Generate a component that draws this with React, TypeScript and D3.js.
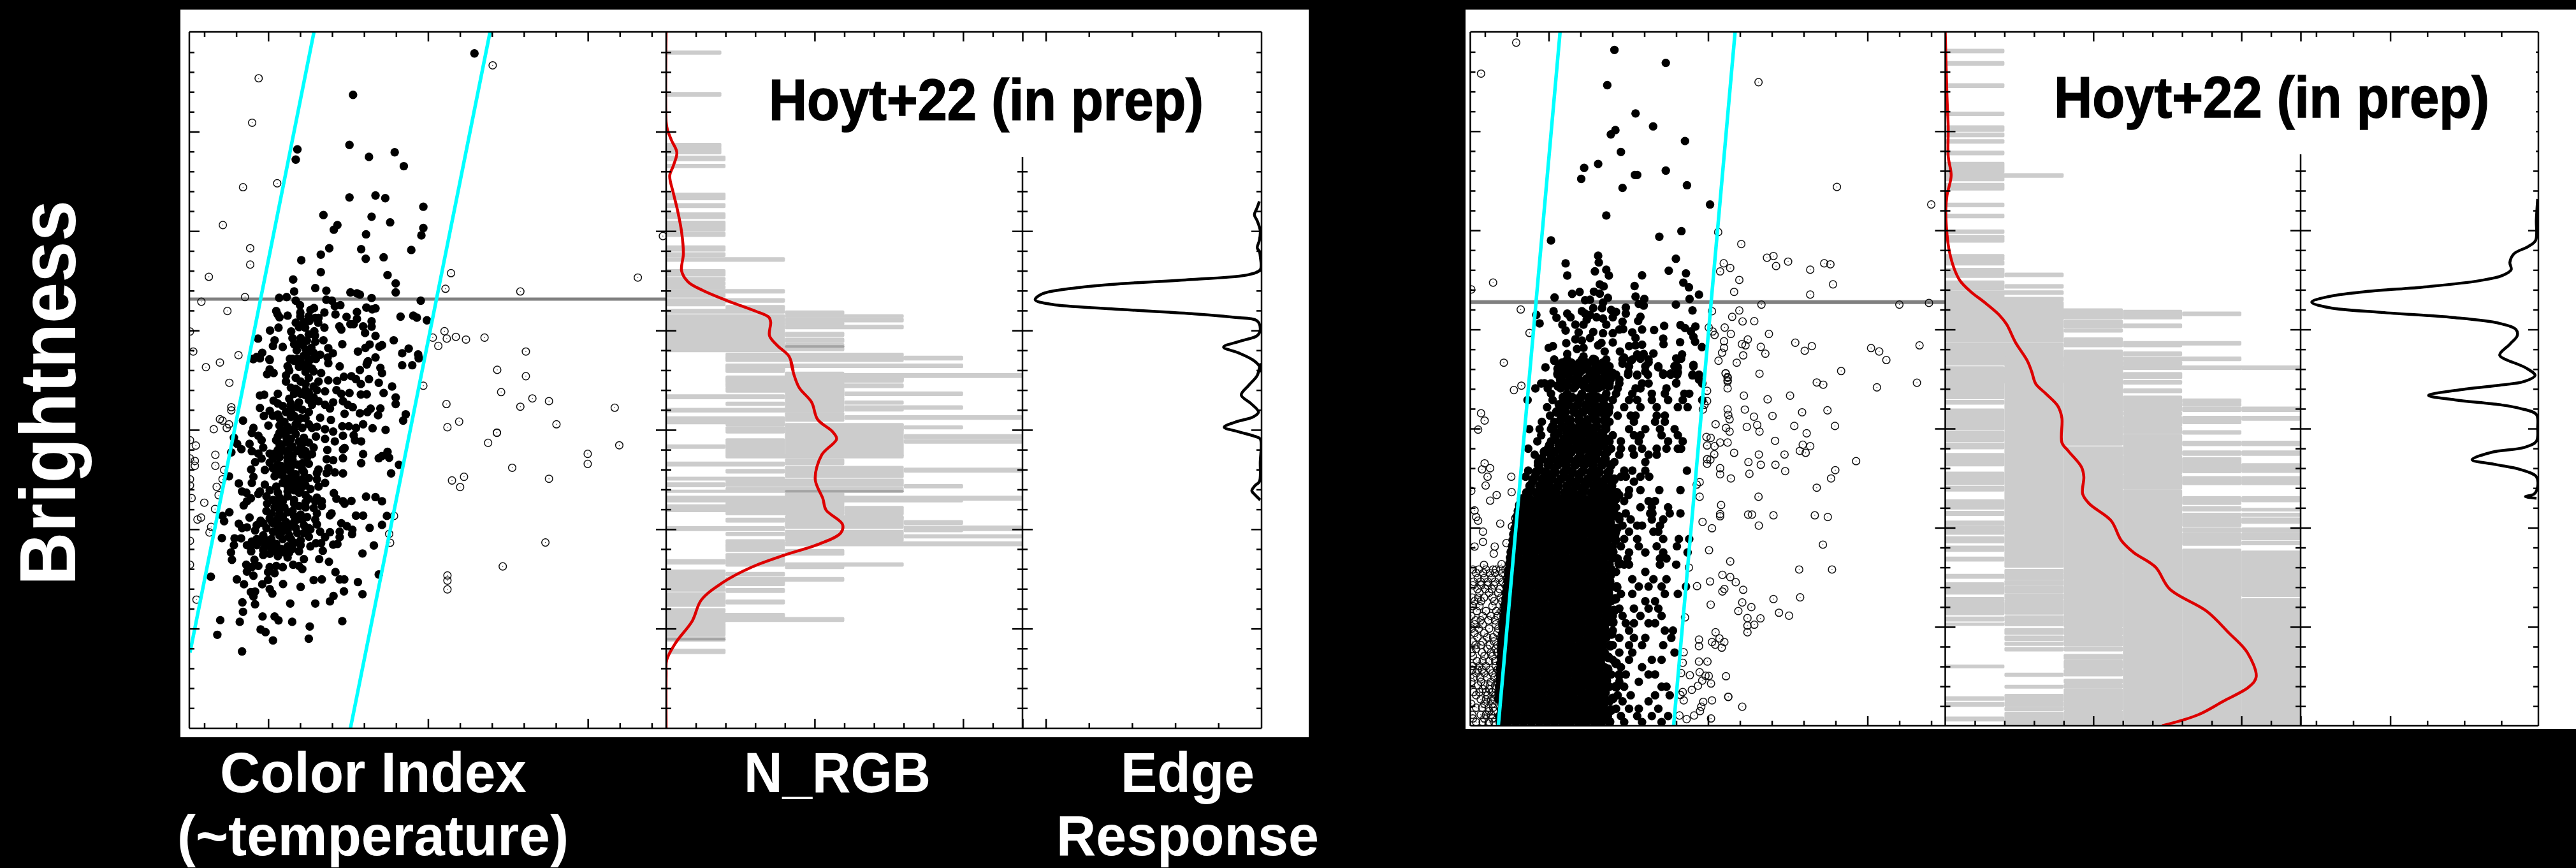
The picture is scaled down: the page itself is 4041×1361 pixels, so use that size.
import React, { useEffect, useRef } from "react";
import * as d3 from "d3";

// brightness values were read in two stretches, the lower one counts from this mark
const LOWER = 1463;

// ---- first field (left) : [color, brightness]
const fieldAMembersUpper = [
  [949,219],[576,389],[565,594],[405,612],[400,654],[625,643],[704,624],[732,681],[565,809],[645,801],[675,812],[792,847],[485,881],[633,888],[690,911],[528,922],[517,941],[792,934],[786,964],[616,960],[503,1017],[477,1043],[601,1021],[755,1024],[417,1066],[615,1060],[670,1054],[477,1115],[682,1127],[392,1145],[707,1161],[460,1180],[494,1191],[395,1194],[568,1198],[588,1202],[597,1207],[707,1198],[349,1220],[372,1217],[633,1221],[400,1232],[494,1228],[511,1232],[784,1232],[413,1250],[537,1250],[520,1254],[456,1262],[445,1270],[617,1260],[645,1263],[635,1267],[340,1274],[344,1287],[488,1280],[414,1280],[588,1278],[522,1288],[375,1293],[414,1296],[556,1298],[440,1296],[460,1302],[470,1302],[588,1306],[722,1297],[761,1293],[772,1301],[803,1312],[633,1316],[400,1322],[425,1320],[442,1315],[469,1322],[568,1328],[578,1328],[633,1338],[347,1342],[488,1342],[534,1337],[540,1350],[607,1337],[429,1342],[321,1354],[386,1358],[457,1357],[613,1364],[459,1375],[390,1385],[645,1376],[284,1387],[335,1394],[701,1394],[485,1394],[434,1396],[411,1405],[330,1417],[360,1421],[543,1410],[627,1411],[665,1414],[657,1420],[500,1426],[403,1435],[430,1430],[448,1425],[747,1428],[614,1425],[591,1440],[727,1447],[776,1452],[778,1465],[297,1445],[280,1462],[268,1470],[319,1472],[514,1447],[475,1453],[462,1470],[498,1465],[645,1464],[424,1458],[390,1470],[382,1470],[622,1480],[618,1493],
  [350,1300],[410,1340],[440,1370],[415,1385],[460,1400],[395,1410],[420,1412],[435,1445],[455,1445],[405,1470],[440,1480],[420,1495],[450,1510],
];
const fieldAMembersLower = [
  [270,8],[290,5],[320,12],[375,37],[415,20],[445,10],[500,25],[535,38],[620,22],[660,44],[665,65],[597,53],[727,33],[758,33],[778,5],[320,50],[332,65],[312,70],[370,75],[400,85],[430,60],[455,58],[478,65],[410,40],[440,40],
  [370,100],[385,125],[400,130],[430,110],[455,120],[470,100],[500,95],[527,97],[548,80],[571,78],[585,90],[600,110],[625,90],[655,105],[696,120],[525,135],[540,150],[490,140],[440,145],[415,150],[345,150],
  [290,157],[303,154],[332,178],[345,190],[380,170],[410,185],[455,165],[470,180],[428,155],[565,147],[600,153],[618,152],[670,147],[707,165],[707,192],[515,185],[490,195],[505,210],[545,180],[560,195],[575,205],[550,232],[360,200],[385,205],[420,215],[440,225],[290,208],[320,220],[385,225],[630,211],[660,210],[620,225],[597,230],[653,238],[738,234],[730,260],
  [302,241],[330,240],[350,250],[385,245],[405,265],[430,250],[475,248],[508,257],[238,260],[270,290],[316,280],[350,280],[420,290],[465,285],[490,295],[515,305],[543,283],[563,283],[585,290],[607,275],[636,291],[676,298],[440,275],[450,290],
  [210,330],[220,355],[233,377],[202,390],[258,355],[265,310],[285,322],[345,325],[380,300],[400,315],[425,330],[462,325],[490,335],[520,345],[545,322],[578,320],[582,340],[601,345],[295,340],[300,370],[340,340],[370,350],[390,365],[410,345],[440,350],[455,370],[550,372],[545,378],[497,380],[265,385],[285,395],[335,395],[360,380],[380,380],
  [295,415],[350,410],[390,405],[420,400],[450,397],[495,418],[515,422],[545,414],[607,397],[601,434],[655,414],[665,405],[682,388],[687,412],[717,441],[693,476],[275,430],[320,432],[345,440],[375,425],[385,450],[420,435],[440,437],[470,460],[500,455],[263,460],[305,462],[340,465],[360,470],[385,470],[425,470],[465,475],[495,475],[520,472],[545,476],[195,488],[335,488],[270,490],
  [225,517],[265,515],[305,522],[340,530],[375,500],[395,520],[440,495],[465,500],[490,515],[470,530],[415,540],[320,545],[290,550],[235,550],[248,555],[375,530],[410,555],[445,540],
  [262,578],[250,590],[240,607],[285,560],[310,570],[350,575],[375,570],[395,585],[440,580],[465,575],[517,557],[525,580],[545,590],[550,600],[571,589],[616,571],[645,573],[665,590],[480,590],[312,600],[345,600],[365,615],[410,610],[455,618],[480,610],[310,630],[325,640],[375,635],[465,640],[510,640],[415,645],[435,655],[196,635],[175,650],
  [180,672],[258,657],[292,670],[345,660],[370,675],[405,665],[460,665],[505,648],[585,649],[607,649],[680,650],[225,682],[235,700],[250,697],[280,688],[300,680],[330,680],[385,690],[425,688],[465,685],[540,680],[557,692],[574,707],[627,699],[665,687],[275,710],[345,700],[375,710],[405,720],[445,705],[475,715],[505,717],[535,715],[573,725],
  [173,741],[212,742],[232,742],[300,730],[350,730],[440,735],[490,737],[535,737],[210,770],[265,755],[250,770],[310,750],[340,765],[375,775],[415,770],[445,775],[462,762],[478,762],[515,768],[528,765],[640,771],[305,775],[263,795],[300,790],[320,805],[345,815],[380,800],[410,795],[483,793],[201,800],[605,804],
  [204,830],[375,820],[425,827],[472,827],[502,838],[248,850],[273,830],[285,855],[265,860],[320,860],[340,855],[360,860],[392,850],[410,855],[420,868],[250,878],[315,880],[335,885],[522,880],[270,895],[655,890],[139,899],
  [219,910],[315,912],[455,913],[480,910],[535,910],[549,910],[591,921],[241,930],[297,930],[361,929],[415,941],[320,950],[328,968],[262,962],[275,960],[270,980],[548,959],[605,971],[516,978],[505,1000],
  [236,1004],[275,1012],[383,1009],[460,1009],[238,1043],[298,1062],[335,1062],[347,1078],[168,1077],[228,1084],[389,1084],[543,1081],[443,1103],[292,1115],[307,1126],[159,1137],[330,1160],[440,1153],[235,1205],
  [405,135],[385,190],[440,175],[395,240],[365,265],[395,295],[370,325],[415,370],[375,395],[345,380],[320,395],[435,410],[330,415],[355,445],[400,480],[380,510],[405,505],[395,545],[360,590],[335,615],[390,630],[350,640],[325,670],[350,690],[380,730],[325,745],[395,760],[355,785],[280,770],[330,785],[460,590],[430,615],[440,700],[390,420],[365,495],[415,520],
  [395,15],[425,30],[380,55],[440,85],[415,100],[465,135],[395,150],[430,135],[450,195],[405,205],[370,225],[415,250],[345,235],[375,285],[400,275],[350,310],[365,300],[385,335],[420,355],[350,355],[405,385],[430,385],[350,395],[375,410],[405,440],[330,455],[375,450],[420,460],[350,480],[385,490],[420,500],[360,515],[395,500],[430,525],[385,535],[345,555],[375,550],[430,565],[330,585],[395,600],[430,595],[350,620],[395,650],[320,660],[360,655],[345,680],[395,675],[420,665],[310,700],[365,695],[400,700],[330,715],[355,720],[425,720],[300,755],[320,775],[360,745],[385,745],[280,745],[415,750],[365,800],[340,795],[390,785],[300,810],[260,775],
];
const fieldARejectedUpper = [
  [1005,268],[286,321],[266,503],[343,751],[238,767],[176,922],[1528,967],[260,1017],[260,1084],[133,1134],[877,1119],[1451,1137],[860,1183],[1090,1194],[244,1217],[110,1236],[190,1274],[857,1357],[75,1358],[821,1383],[864,1387],[892,1380],[923,1391],[980,1383],[838,1417],[85,1440],[1107,1440],[224,1455],[167,1485],[124,1504],
];
const fieldARejectedLower = [
  [1019,52],[1107,78],[196,105],[792,117],[1031,143],[1127,169],[1178,180],[863,192],[1090,203],[1380,207],[202,205],[202,218],[167,254],[175,260],[195,275],[188,290],[148,295],[902,264],[866,287],[1201,275],[1018,309],[1018,310],[991,351],[93,362],[1394,361],[1297,396],[153,400],[90,425],[1297,437],[90,445],[153,445],[180,462],[1065,453],[175,500],[1178,498],[917,490],[880,505],[905,532],[157,531],[163,565],[80,577],[119,596],[152,622],[109,657],[98,665],[702,650],[140,695],[135,718],[687,724],[690,760],[1167,759],[75,752],[1036,857],[866,894],[866,915],[866,951],[95,993],[75,340],[75,415],[75,500],[75,525],[75,850],
];
// [y from, y to, count from, count to]
const fieldAHist = [
  [210,222,0,.93],[380,394,0,.93],[588,602,0,.93],[603,630,0,.93],[640,658,0,1],[674,686,0,1],[792,818,0,1],[835,850,0,1],[873,895,0,1],[907,945,0,1],[952,968,0,1],[1008,1028,0,1],[1036,1050,0,1],[1056,1070,0,2],[1105,1130,0,1],[1137,1150,0,1],[1155,1168,0,1],[1172,1183,0,1],[1187,1200,0,2],[1203,1217,0,1],[1224,1238,0,2],[1240,1252,0,1],[1252,1268,1,2],[1268,1282,0,2],[1274,1286,2,3],[1290,1300,2,4],[1304,1318,2,4],[1320,1330,2,3],[1333,1346,2,4],[1290,1440,0,2],[1362,1378,2,3],[1386,1402,2,3],[1408,1436,2,3],
  [1447,1480,1,4],[1460,1474,4,5],[1492,1505,1,5],[1505,1525,1,2],[1532,1545,2,6],[1547,1565,1,4],
];
const fieldAHistLower = [
  [0,8,1,5],[30,42,1,5],[35,60,1,2],[68,82,2,6],[62,100,2,3],[78,115,1,3],[85,98,3,4],[110,124,1,4],[125,143,1,3],[143,157,3,5],[135,165,2,3],[155,170,0,2],[165,210,2,3],[180,192,3,4],[185,197,1,2],[200,213,3,5],[210,224,0,3],[205,220,3,4],[228,262,2,3],[240,254,3,6],[245,272,0,2],[262,280,1,2],
  [272,300,2,4],[282,293,4,5],[285,310,1,2],[318,332,4,6],[338,352,4,6],[275,405,2,4],[335,400,1,2],[360,373,0,1],[400,412,1,4],[418,440,2,3],[430,445,0,2],[455,470,4,6],[460,474,1,2],[448,492,2,4],[492,503,0,2],[500,528,1,4],[515,530,0,1],[522,535,4,5],[535,545,1,4],[545,553,0,4],[555,570,2,3],[570,585,0,6],[580,592,0,5],[592,605,1,3],[605,632,0,3],[612,645,3,4],[632,645,1,3],[650,660,2,4],[660,675,1,2],[655,700,2,4],[670,684,4,5],[695,710,0,2],[692,710,4,6],[710,745,2,4],[702,714,4,5],[718,730,1,2],[728,740,4,6],[748,762,1,2],[745,752,2,4],[757,772,2,6],[762,773,1,2],[770,795,1,2],[788,810,2,3],[805,855,1,2],[830,847,0,1],[843,855,2,4],[853,865,2,3],
  [872,935,0,1],[882,895,1,2],[903,917,1,3],[920,935,1,2],[948,963,1,2],[940,958,0,1],[965,1020,0,1],[995,1010,1,2],[1030,1045,0,1],[1050,1065,0,2],[1067,1082,0,3],[1075,1090,0,1],[1090,1140,0,1],[1145,1162,0,1],[1197,1213,0,1],
];
const fieldAHistDark = [[1414,1422,2,3],[LOWER+544,LOWER+552,2,4],[LOWER+1150,LOWER+1159,0,1]];
// [brightness, count]
const fieldADensity = [[131,0],[500,0],[530,.02],[575,.09],[625,.18],[680,.12],[720,.06],[790,.12],[860,.19],[950,.26],[1040,.29],[1110,.26],[1155,.37],[1190,.62],[1230,1.01],[1275,1.51],[1300,1.73],[1320,1.76],[1375,1.74],[1415,1.87],[1460,2.07],[1520,2.14]];
const fieldADensityLower = [[20,2.1],[70,2.15],[125,2.24],[185,2.45],[255,2.55],[305,2.8],[335,2.87],[400,2.62],[500,2.51],[580,2.64],[625,2.69],[685,2.97],[720,2.94],[765,2.58],[810,2],[860,1.44],[925,.94],[995,.59],[1080,.44],[1170,.16],[1240,.01],[1300,0],[1520,0]];
// [brightness, response]
const fieldAEdge = [[825,.01],[850,.02],[880,.033],[905,.02],[945,.006],[985,.01],[1015,.02],[1030,.01],[1050,.006],[1105,.006],[1125,.059],[1145,.324],[1165,.696],[1185,.912],[1205,1.02],[1228,1.049],[1247,.971],[1265,.696],[1285,.324],[1300,.127],[1315,.02],[1350,.006],[1375,.02],[1395,.088],[1422,.176],[1445,.108],[1475,.039],[1500,.01],[1520,.006]];
const fieldAEdgeLower = [[30,.006],[75,.02],[115,.059],[155,.094],[190,.049],[225,.014],[245,.039],[265,.118],[287,.173],[305,.108],[325,.029],[335,.006],[430,.006],[510,.01],[525,.029],[547,.045],[565,.029],[585,.006]];
const fieldABounds = [[[456,131],[75,1210+LOWER]],[[997,131],[568,1520+LOWER]]];

// ---- second field (right)
const fieldBMembersUpper = [
  [495,205],[653,258],[473,349],[560,465],[614,518],[498,533],[484,551],[712,578],[515,623],[445,672],[402,688],[393,733],[653,699],[558,717],[565,717],[718,759],[520,770],[789,838],[470,883],[701,947],[633,970],[300,985],[445,1048],[684,1060],[447,1075],[345,1079],[470,1105],[435,1112],[662,1109],[715,1120],[350,1129],[478,1129],[580,1128],[450,1165],[462,1173],[707,1158],[724,1177],[557,1172],[388,1196],[365,1204],[432,1195],[450,1203],[755,1207],[311,1219],[560,1215],[587,1225],[726,1225],[475,1220],[405,1230],[420,1228],[460,1240],[570,1245],[585,1252],[684,1248],[430,1262],[457,1262],[530,1260],[735,1272],[308,1275],[255,1290],[317,1302],[350,1285],[395,1275],[405,1285],[420,1290],[440,1300],[485,1270],[500,1278],[530,1285],[490,1300],[360,1300],[575,1298],[568,1315],[410,1310],[460,1305],[520,1318],[265,1325],[335,1330],[375,1330],[400,1330],[470,1330],[648,1335],[698,1332],[744,1338],[712,1344],[345,1354],[430,1360],[460,1365],[490,1365],[510,1350],[522,1348],[550,1362],[580,1350],[617,1352],[730,1358],[738,1380],[385,1362],[560,1385],[645,1387],[743,1400],[697,1402],[646,1410],[347,1406],[375,1390],[395,1395],[420,1385],[455,1405],[490,1403],[580,1412],[540,1418],[560,1415],[445,1415],[764,1422],[293,1425],[306,1418],[400,1425],[380,1430],[465,1440],[512,1440],[615,1448],[565,1452],[585,1450],[350,1450],[400,1460],[703,1452],[345,1480],[685,1468],[700,1470],[310,1478],[430,1470],[525,1465],[600,1485],[545,1478],[575,1470],[520,1490],[738,1495],[283,1505],[690,1505],[630,1505],[680,1500],[400,1490],[455,1495],[350,1500],[320,1510],[590,1522],[645,1530],[668,1530],[690,1525],[735,1538],[538,1525],[565,1538],[490,1528],[430,1520],[390,1525],[320,1530],[355,1535],[755,1555],[685,1568],[440,1545],[510,1555],[280,1570],[380,1560],
];
// rows: [brightness, color, color, ...]
const fieldBMemberRows = [
  [10,310,350,395,435,470,520,550,600,690],[38,325,370,410,450,480,540,590,630,680,738],[72,320,350,380,430,465,500,537,565,598,645,668,688,735,755],[108,270,300,345,390,440,480,510,580,600,685,765],[128,252,290,330,370,415,445,505,560,575,655],[150,300,350,395,430,470,500,550,610,650,710,725],[176,228,305,345,385,420,460,490,540,565,610,660,705,765],[205,288,330,370,410,445,480,525,575,625,690,720],[240,297,340,385,430,470,505,545,560,625,650],[265,272,310,355,400,440,480,555,620,650],[295,233,265,300,345,390,430,470,540,590,635,680],[320,270,310,350,395,440,490,555,575,640,690],[345,258,300,345,380,430,480,515,570,660,705],[375,230,290,335,375,415,445,485,515,550,580,625,655,690,700],[400,250,300,345,390,430,465,510,555,600,625],[430,260,290,335,375,420,460,495,590],[465,230,270,310,355,400,445,480,525,550,590,718],[490,222,250,290,340,385,430,475,515,530,575,602],[510,243,280,320,365,410,450,490,555],[545,240,275,310,355,400,440,480,540,575,633,698],[565,230,265,300,345,385,430,470,510,538],[590,238,280,320,365,410,450,490,525,600,620],[615,250,300,345,390,430,475,500,575,610,660],[640,230,270,320,365,410,450,495,530,605,612,665,698],[665,195,235,280,335,380,420,465,510,545,610,645],[690,240,300,350,395,440,480,520,565,580,635],[715,225,270,320,365,410,450,500,540,615,630],[745,200,245,290,340,385,430,475,525,565,645,693,725],[775,205,255,305,350,400,445,490,515,570,625,687],[800,240,280,330,375,420,470,540,590,645,720],[825,190,230,275,325,370,415,460,505,535,635,655],[850,205,250,300,345,390,435,480,525,540,685,635],[880,180,225,270,320,365,410,455,500,590],[910,195,245,290,340,385,430,475,550,655,615],[940,175,215,265,310,360,405,450,490,570,600,640,715],[970,195,245,290,335,380,430,470,515,550,650,690],[1000,175,225,270,315,360,405,450,485,620,590],[1030,200,250,295,340,385,430,475,510,555,600,630],[1060,170,220,265,310,355,400,445,490,520,640,575],[1090,195,245,290,335,380,425,470,530,555,600,620],[1120,170,215,265,310,355,400,445,490,540,650,675],[1150,190,240,290,335,380,425,470,510,555,590,670],[1180,165,215,265,310,355,400,445,490,540,580,645],[1210,185,240,285,330,375,420,465,510,550,680],[1240,160,210,260,305,350,395,440,490,540,610,640],[1270,180,235,280,325,375,420,465,515,580],[1300,155,205,255,300,350,395,440,485,530,600,620],[1330,175,230,275,325,370,415,460,510,570],[1350,150,200,250,300,345,390,435,480,525,640,655],[1385,170,225,270,320,365,410,455,505,545,620,665],[1410,145,195,245,290,340,385,430,480,520,600],[1440,165,220,265,315,360,405,450,500,540,570,630],[1470,140,190,240,290,335,380,425,475,515,565,610,660],[1495,160,215,265,310,355,400,450,525,580,640],
];
// the crowded core, where the dots merge into one black mass
const fieldBCoreRows = [
  [25,335,362,388,412,436,460],[55,340,366,392,418,444,470],[90,330,358,384,410,434,458,482],[118,322,348,374,402,428,456,478],[165,338,364,390,416,442,466],[195,326,354,382,408,434,462],[225,318,344,372,398,426,452,476],[258,330,358,386,412,438,464],[285,306,334,362,388,414,440,468],[312,322,350,376,404,430,458],[338,312,340,366,394,420,448,474],[362,296,326,352,380,406,434,462],[388,280,310,336,362,390,418,444,472],[416,272,302,328,356,384,410,438,466],[442,262,292,320,346,374,402,428,456,484],[472,254,284,312,340,366,394,422,448,476],[500,246,274,302,330,358,386,414,440,468,494],[528,236,266,294,322,350,378,404,432,460,486],[556,226,256,286,314,342,368,396,424,452,478,502],
  [582,210,234,258,282,306,330,354,378,402,426,450,474,498],[606,204,228,252,276,300,324,348,372,396,420,444,468,490],[630,200,224,248,272,296,320,344,368,392,416,440,464,488],[654,196,220,244,268,292,316,340,364,388,412,436,460,486,508],[678,194,218,242,266,290,314,338,362,386,410,434,458,482],[702,190,214,238,262,286,310,334,358,382,406,430,454,478,502],[726,186,210,234,258,282,306,330,354,378,402,426,450,474,496],[750,184,208,232,256,280,304,328,352,376,400,424,448,472,498],[774,182,206,230,254,278,302,326,350,374,398,422,446,470],[798,178,202,226,250,274,298,322,346,370,394,418,442,466,490],[822,176,200,224,248,272,296,320,344,368,392,416,440,464,488],[846,174,198,222,246,270,294,318,342,366,390,414,438,462,510],[870,172,196,220,244,268,292,316,340,364,388,412,436,460,484],[894,170,194,218,242,266,290,314,338,362,386,410,434,458,482],[918,168,192,216,240,264,288,312,336,360,384,408,432,456,480],[942,166,190,214,238,262,286,310,334,358,382,406,430,454,478,502],[966,164,188,212,236,260,284,308,332,356,380,404,428,452,476],[990,162,186,210,234,258,282,306,330,354,378,402,426,450,474,498],[1014,160,184,208,232,256,280,304,328,352,376,400,424,448,472],[1038,158,182,206,230,254,278,302,326,350,374,398,422,446,470,494],[1062,156,180,204,228,252,276,300,324,348,372,396,420,444,468],[1086,155,178,202,226,250,274,298,322,346,370,394,418,442,466,490],[1110,154,176,200,224,248,272,296,320,344,368,392,416,440,464],[1134,152,174,198,222,246,270,294,318,342,366,390,414,438,462,486],[1158,150,172,196,220,244,268,292,316,340,364,388,412,436,460],[1182,149,170,194,218,242,266,290,314,338,362,386,410,434,458,482],[1206,148,168,192,216,240,264,288,312,336,360,384,408,432,456],[1230,147,166,190,214,238,262,286,310,334,358,382,406,430,454,476],[1254,146,164,188,212,236,260,284,308,332,356,380,404,428,452,500],[1278,145,162,186,210,234,258,282,306,330,354,378,402,426,450,474],[1302,144,160,184,208,232,256,280,304,328,352,376,400,424,448,472,510],[1326,143,158,182,206,230,254,278,302,326,350,374,398,422,446,470],[1350,142,156,180,204,228,252,276,300,324,348,372,396,420,444,468,500],[1374,141,154,178,202,226,250,274,298,322,346,370,394,418,442,466],[1398,140,152,176,200,224,248,272,296,320,344,368,392,416,440,464,490],[1422,150,174,198,222,246,270,294,318,342,366,390,414,438,462],[1446,148,172,196,220,244,268,292,316,340,364,388,412,436,460,484],[1470,146,170,194,218,242,266,290,314,338,362,386,410,434,458],[1494,144,168,192,216,240,264,288,312,336,360,384,408,432,456,480],
];
const fieldBRejectedUpper = [
  [193,175],[85,302],[938,337],[1179,766],[1469,838],[814,951],[885,1000],[964,1056],[984,1049],[992,1090],[1029,1072],[831,1079],[851,1098],[820,1112],[1097,1105],[1140,1079],[1159,1083],[879,1147],[1167,1165],[122,1158],[55,1186],[863,1196],[1097,1207],[947,1248],[1371,1248],[1462,1241],[207,1268],[795,1275],[879,1272],[857,1298],[889,1317],[925,1316],[785,1342],[834,1342],[797,1358],[803,1372],[853,1368],[970,1368],[234,1364],[832,1398],[905,1391],[1051,1404],[887,1410],[898,1415],[945,1421],[1102,1418],[1284,1426],[1433,1415],[1309,1440],[832,1425],[826,1445],[1080,1437],[959,1449],[891,1456],[1331,1475],[815,1478],[871,1486],[155,1486],[1192,1520],[941,1531],[837,1530],[843,1545],[843,1558],
];
const fieldBRejectedLower = [
  [837,66],[843,85],[843,100],[1117,104],[1137,113],[1425,105],[1302,124],[843,128],[186,135],[209,117],[780,138],[893,158],[1035,158],[966,173],[780,180],[772,195],[767,215],[843,214],[896,215],[1072,226],[1150,218],[845,237],[849,255],[924,244],[981,241],[85,230],[96,260],[806,275],[934,278],[1048,282],[1173,282],[902,286],[838,290],[849,305],[941,305],[76,297],[1086,312],[778,327],[791,331],[989,343],[820,350],[843,350],[780,362],[803,365],[1074,359],[1097,365],[1065,384],[1083,392],[863,392],[802,398],[939,399],[1018,399],[790,420],[780,418],[780,437],[1238,426],[96,435],[88,460],[113,455],[907,430],[945,441],[990,441],[820,455],[820,480],[1020,467],[1174,463],[105,490],[178,490],[853,497],[910,478],[1161,497],[99,526],[757,512],[748,522],[1117,535],[55,548],[179,553],[133,565],[113,588],[757,572],[938,572],[823,606],[65,628],[70,655],[76,670],[190,660],[820,643],[820,652],[906,645],[918,645],[984,648],[1111,648],[1151,655],[144,682],[180,693],[766,675],[939,690],[795,701],[91,715],[91,757],[163,762],[65,776],[127,776],[124,805],[786,791],[1136,768],[851,837],[94,851],[148,848],[180,850],[724,862],[1063,870],[1164,870],[827,892],[851,901],[868,922],[789,919],[749,938],[891,953],[833,950],[827,960],[1066,984],[984,991],[888,1005],[791,1014],[916,1024],[876,1040],[1001,1047],[1032,1059],[904,1069],[944,1070],[712,1066],[904,1100],[925,1096],[904,1127],[806,1127],[818,1152],[755,1157],[833,1167],[795,1167],[805,1178],[825,1190],[755,1184],[708,1209],[705,1252],[755,1247],[781,1247],[700,1294],[727,1303],[757,1291],[775,1305],[785,1306],[838,1307],[765,1325],[752,1346],[792,1337],[733,1363],[705,1372],[698,1384],[845,1391],[845,1392],[795,1406],[768,1412],[708,1406],[888,1432],[762,1432],[758,1450],[740,1468],[695,1468],[717,1483],[792,1480],
];
const fieldBRejectedRows = [
  [870,60,78,100,122,131,145,160],[885,70,92,112,128,150,168],[905,75,95,118,140,165],[920,62,84,106,128,152],[935,60,85,105,125,160],[950,74,98,118,142],[965,80,110,138,160],[985,58,76,94,120,146],[1000,65,85,125,150],[1020,60,80,120,155],[1040,72,100,132,148],[1060,55,90,115,135],[1078,68,84,108,128,152],[1095,65,90,130,150],[1112,56,78,110,138],[1130,65,95,135,155],[1148,74,104,122,146],[1165,60,90,125,150],[1180,68,84,112,136],[1195,70,105,130,145],[1210,56,88,116,134],[1225,60,95,120,150],[1245,72,90,110,128],[1265,60,80,100,130],[1280,58,74,88,112,136],[1295,70,95,120,150],[1312,62,82,104,126],[1330,55,85,115,135],[1345,76,96,112,128],[1360,90,110,130],[1372,62,80,100,118],[1385,70,105,130],[1402,84,100,116,126],[1420,55,95,120],[1436,70,88,108,122],[1450,110,125],[1465,58,84,100,116],[1480,60,95,120],[1495,70,90,110,126],
];
const fieldBHist = [
  [203,216,0,1],[253,267,0,1],[344,358,0,1],[460,473,0,1],[516,538,0,1],[546,560,0,1],[573,586,0,1],[620,634,0,1],[666,708,0,1],[712,726,0,2],[726,740,0,1],[752,778,0,1],[833,847,0,1],[878,892,0,1],[943,956,0,1],[965,992,0,1],[1043,1066,0,1],[1070,1085,0,1],[1100,1136,0,1],[1120,1133,1,2],[1152,1186,0,1],[1167,1180,1,2],[1192,1205,0,2],[1205,1218,0,1],[1219,1232,0,2],[1236,1268,0,2],[1266,1306,0,3],[1272,1306,3,4],[1279,1293,4,5],
  [1306,1402,0,2],[1408,1495,0,2],[1506,1568,0,2],[1313,1342,2,3],[1328,1342,3,4],[1348,1360,2,3],[1385,1420,2,3],[1400,1413,3,5],[1413,1420,3,4],[1435,1480,2,3],[1442,1456,3,4],[1463,1477,3,5],[1482,1495,3,4],[1500,1512,2,6],[1515,1568,2,3],[1527,1550,3,4],[1560,1568,3,4],
];
// [count from, count to, [y from, y to, ...]]
const fieldBHistLower = [
  [0,1,[0,30,40,170,178,192,213,298,305,345,352,375,395,445,472,522,530,548,585,622,632,648,672,687,693,708,712,725,737,760,775,795,820,835,890,905,925,970,985,1000,1003,1055,1065,1080,1090,1098,1262,1272,1392,1405,1415,1430,1475,1490]],
  [1,2,[0,860,870,910,915,935,940,965,970,990,995,1052,1060,1082,1085,1100,1112,1135,1143,1160,1168,1180,1190,1203,1295,1307,1345,1355,1382,1408,1412,1430,1435,1448,1455,1510]],
  [2,3,[0,360,368,885,887,1105,1110,1138,1142,1182,1188,1203,1218,1238,1243,1275,1280,1305,1320,1335,1340,1355,1360,1445,1450,1510]],
  [3,4,[0,12,18,30,38,50,65,86,98,110,131,145,160,220,225,238,243,283,287,313,318,362,365,400,404,478,482,540,545,860,860,1100,1100,1510]],
  [4,5,[0,12,38,50,172,186,188,200,205,222,243,272,302,315,345,362,385,402,412,473,490,522,572,603,613,630,640,693,700,715,720,770,787,1510]],
  [5,6,[38,50,205,222,243,258,345,362,385,402,437,472,490,522,572,592,620,630,640,652,660,680,700,717,722,748,755,768,795,980,990,1510]],
];
const fieldBDensity = [[131,0],[400,.03],[520,.05],[640,.05],[720,.1],[800,.03],[860,.01],[960,.03],[1030,.07],[1100,.15],[1150,.25],[1195,.43],[1240,.67],[1290,.91],[1330,1.04],[1400,1.18],[1480,1.39]];
const fieldBDensityLower = [[60,1.46],[110,1.53],[150,1.7],[200,1.9],[250,1.97],[350,1.97],[385,2.08],[450,2.3],[490,2.34],[560,2.32],[600,2.43],[670,2.8],[750,2.97],[800,3.18],[860,3.55],[950,3.79],[1040,4.41],[1130,4.79],[1210,5.1],[1310,5.25],[1350,5.13],[1410,4.69],[1465,4.27],[1510,3.66]];
const fieldBEdge = [[815,.004],[900,.011],[985,.015],[1010,.055],[1040,.132],[1075,.154],[1105,.147],[1130,.198],[1150,.319],[1175,.604],[1195,.934],[1215,1.132],[1238,1.224],[1260,1.132],[1280,.846],[1300,.473],[1325,.209],[1350,.121],[1375,.114],[1410,.154],[1455,.209],[1480,.154]];
const fieldBEdgeLower = [[20,.143],[45,.066],[75,.018],[100,.077],[115,.209],[130,.385],[157,.593],[175,.451],[195,.209],[210,.099],[235,.011],[290,.004],[345,.011],[370,.077],[390,.253],[420,.358],[440,.231],[460,.099],[490,.011],[530,.004],[560,.022],[572,.07],[578,.01]];
const fieldBBounds = [[[328,131],[138,1510+LOWER]],[[866,131],[677,1510+LOWER]]];

const bandText = "Hoyt+22 (in prep)";
const fieldALabels = [
  { text: "Color Index", from: 345, to: 826, base: 1242 },
  { text: "(~temperature)", from: 278, to: 892, base: 1341 },
  { text: "N_RGB", from: 1167, to: 1460, base: 1242 },
  { text: "Edge", from: 1758, to: 1968, base: 1242 },
  { text: "Response", from: 1657, to: 2069, base: 1341 },
];

const lower = (pts) => pts.map(([a, b]) => [a, b + LOWER]);
const lowerY = (pts) => pts.map(([y, v]) => [y + LOWER, v]);
const fromRows = (rows) => rows.flatMap(([y, ...xs]) => xs.map((x) => [x, y + LOWER]));

const fontFam = "'Liberation Sans', Arial, sans-serif";

const addAxis = (root, axisFn, scale, values, size, x, y) => {
  root
    .append("g")
    .attr("transform", `translate(${x},${y})`)
    .call(axisFn(scale).tickValues(values).tickSize(size).tickFormat(() => ""))
    .call((s) => s.select(".domain").remove())
    .selectAll("line")
    .attr("stroke", "#000")
    .attr("stroke-width", 2.5);
};

const drawFigure = (svg, f, idx) => {
  const { box, left, split1, split2, right, top, bottom, edgeTop } = f;
  const g = svg.append("g");

  g.append("rect").attr("x", box[0]).attr("y", box[1]).attr("width", box[2] - box[0]).attr("height", box[3] - box[1]).attr("fill", "#fff");

  const xCol = d3.scaleLinear().domain(f.colorDomain).range([left, split1]);
  const yMag = d3.scaleLinear().domain(f.magDomain).range([top, bottom]);
  const xCnt = d3.scaleLinear().domain([0, 6]).range([split1, split2]);
  const xEdge = d3.scaleLinear().domain([0, f.edgeMax]).range([right, split2]);

  const defs = svg.append("defs");
  const clip = (id, a, b) => {
    defs.append("clipPath").attr("id", `${id}${idx}`).append("rect").attr("x", a).attr("y", top).attr("width", b - a).attr("height", bottom - top);
    return `url(#${id}${idx})`;
  };

  // colour magnitude panel
  const p1 = g.append("g").attr("clip-path", clip("cmd", left, split1));
  p1.append("line").attr("x1", left).attr("x2", split1).attr("y1", yMag(f.trgb)).attr("y2", yMag(f.trgb)).attr("stroke", "#808080").attr("stroke-width", f.trgbWidth);
  const open = p1.append("g");
  f.rejected.forEach(([c, m]) => {
    open.append("circle").attr("cx", xCol(c)).attr("cy", yMag(m)).attr("r", 5.8).attr("fill", "none").attr("stroke", "#111").attr("stroke-width", 1.5);
    open.append("circle").attr("cx", xCol(c)).attr("cy", yMag(m)).attr("r", 0.7).attr("fill", "#222");
  });
  const dots = (list, r) =>
    p1.append("g").selectAll("circle").data(list).join("circle").attr("cx", (d) => xCol(d[0])).attr("cy", (d) => yMag(d[1])).attr("r", r).attr("fill", "#000");
  dots(f.members, 6.7);
  dots(f.core, 7.7);
  const bound = d3.line().x((d) => xCol(d[0])).y((d) => yMag(d[1]));
  f.bounds.forEach((b) => p1.append("path").attr("d", bound(b)).attr("fill", "none").attr("stroke", "#00ffff").attr("stroke-width", 5.5));

  // histogram panel, each bar runs a little over its bin
  const p2 = g.append("g").attr("clip-path", clip("hist", split1, split2));
  const bars = (list, fill, pad) =>
    p2.append("g").selectAll("rect").data(list).join("rect")
      .attr("x", (d) => xCnt(d[2]))
      .attr("y", (d) => yMag(d[0]) - pad)
      .attr("width", (d) => xCnt(d[3]) - xCnt(d[2]))
      .attr("height", (d) => Math.max(yMag(d[1]) - yMag(d[0]) + 2 * pad, 4))
      .attr("rx", 2)
      .attr("fill", fill);
  bars(f.hist, "#cccccc", 1);
  bars(f.histDark, "#a3a3a3", 0);
  const density = d3.line().x((d) => xCnt(d[1])).y((d) => yMag(d[0])).curve(d3.curveCatmullRom);
  p2.append("path").attr("d", density(f.density)).attr("fill", "none").attr("stroke", "#dd0000").attr("stroke-width", 4.5);

  // edge response panel
  const p3 = g.append("g").attr("clip-path", clip("edge", split2, right));
  const edge = d3.line().x((d) => xEdge(d[1])).y((d) => yMag(d[0])).curve(d3.curveCatmullRom);
  p3.append("path").attr("d", edge(f.edge)).attr("fill", "none").attr("stroke", "#000").attr("stroke-width", 4.5);

  // axes
  const ax = g.append("g");
  const magMinor = f.magTicks.filter((_, i) => (i + 1) % 5 !== 0);
  const magMajor = f.magTicks.filter((_, i) => (i + 1) % 5 === 0);
  const colMinor = f.colorTicks.filter((_, i) => (i + 3) % 5 !== 0);
  const colMajor = f.colorTicks.filter((_, i) => (i + 3) % 5 === 0);
  const cntMinor = d3.range(0.5, 6, 0.5).filter((v) => v % 2.5 !== 0);
  const cntMajor = [2.5, 5, 6];
  const edgeMinor = d3.range(0.2, f.edgeMax, 0.2).map((v) => +v.toFixed(1)).filter((v) => v !== f.edgeMajor);

  [[xCol, colMinor, colMajor], [xCnt, cntMinor, cntMajor], [xEdge, edgeMinor, [f.edgeMajor]]].forEach(([s, mi, ma]) => {
    addAxis(ax, d3.axisBottom, s, mi, 8, 0, top);
    addAxis(ax, d3.axisBottom, s, ma, 15, 0, top);
    addAxis(ax, d3.axisTop, s, mi, 8, 0, bottom);
    addAxis(ax, d3.axisTop, s, ma, 15, 0, bottom);
  });

  addAxis(ax, d3.axisRight, yMag, magMinor, 8, left, 0);
  addAxis(ax, d3.axisRight, yMag, magMajor, 16, left, 0);
  addAxis(ax, d3.axisLeft, yMag, magMinor, 8, split1, 0);
  addAxis(ax, d3.axisLeft, yMag, magMajor, 16, split1, 0);
  addAxis(ax, d3.axisRight, yMag, magMinor, 8, split1, 0);
  addAxis(ax, d3.axisRight, yMag, magMajor, 16, split1, 0);
  const magLow = (a) => a.filter((m) => yMag(m) > edgeTop);
  addAxis(ax, d3.axisLeft, yMag, magLow(magMinor), 8, split2, 0);
  addAxis(ax, d3.axisLeft, yMag, magLow(magMajor), 16, split2, 0);
  addAxis(ax, d3.axisRight, yMag, magLow(magMinor), 8, split2, 0);
  addAxis(ax, d3.axisRight, yMag, magLow(magMajor), 16, split2, 0);
  addAxis(ax, d3.axisLeft, yMag, magMinor, 8, right, 0);
  addAxis(ax, d3.axisLeft, yMag, magMajor, 16, right, 0);

  // frame
  const frame = (x1, y1, x2, y2) =>
    ax.append("line").attr("x1", x1).attr("y1", y1).attr("x2", x2).attr("y2", y2).attr("stroke", "#000").attr("stroke-width", 2.5);
  frame(left, top, right, top);
  frame(left, bottom, right, bottom);
  frame(left, top, left, bottom);
  frame(split1, top, split1, bottom);
  frame(split2, edgeTop, split2, bottom);
  frame(right, top, right, bottom);

  // the pasted credit box hides part of the axes
  g.append("rect").attr("x", f.patch[0]).attr("y", f.patch[1]).attr("width", f.patch[2] - f.patch[0]).attr("height", f.patch[3] - f.patch[1]).attr("fill", "#fff");
  g.append("text")
    .attr("x", f.credit[0])
    .attr("y", f.credit[2])
    .attr("textLength", f.credit[1] - f.credit[0])
    .attr("lengthAdjust", "spacingAndGlyphs")
    .attr("font-family", fontFam)
    .attr("font-weight", 700)
    .attr("font-size", 91)
    .attr("fill", "#000")
    .attr("stroke", "#000")
    .attr("stroke-width", 1.5)
    .text(bandText);
};

export default function App() {
  const ref = useRef(null);

  useEffect(() => {
    const svg = d3.select(ref.current);
    svg.selectAll("*").remove();

    const figA = {
      box: [283, 15, 2053, 1156],
      left: 297, split1: 1045, split2: 1604, right: 1979, top: 50, bottom: 1142, edgeTop: 246,
      colorDomain: [73, 1538],
      magDomain: [131, 1520 + LOWER],
      trgb: 1225, trgbWidth: 5,
      edgeMax: 1.108, edgeMajor: 1,
      colorTicks: d3.range(15).map((i) => 119 + 98.2 * i),
      magTicks: d3.range(34).map((i) => 214 + 81.4 * i),
      members: [...fieldAMembersUpper, ...lower(fieldAMembersLower)],
      core: [],
      rejected: [...fieldARejectedUpper, ...lower(fieldARejectedLower)],
      hist: [...fieldAHist, ...fieldAHistLower.map(([a, b, c, e]) => [a + LOWER, b + LOWER, c, e])],
      histDark: fieldAHistDark,
      density: [...fieldADensity, ...lowerY(fieldADensityLower)],
      edge: [...fieldAEdge, ...lowerY(fieldAEdgeLower)],
      bounds: fieldABounds,
      patch: [1585, 70, 1968, 244],
      credit: [1206, 1888, 187.5],
    };
    const figB = {
      box: [2299, 15, 4041, 1143],
      left: 2306.5, split1: 3051.5, split2: 3609, right: 3982, top: 50, bottom: 1138, edgeTop: 242,
      colorDomain: [52, 1512],
      magDomain: [131, 1510 + LOWER],
      trgb: 1238, trgbWidth: 6,
      edgeMax: 1.284, edgeMajor: 0.8,
      colorTicks: d3.range(15).map((i) => 97 + 98 * i),
      magTicks: d3.range(34).map((i) => 213 + 81.2 * i),
      members: [...fieldBMembersUpper, ...fromRows(fieldBMemberRows)],
      core: fromRows(fieldBCoreRows),
      rejected: [...fieldBRejectedUpper, ...lower(fieldBRejectedLower), ...fromRows(fieldBRejectedRows)],
      hist: [
        ...fieldBHist,
        ...fieldBHistLower.flatMap(([lo, hi, ys]) =>
          d3.range(0, ys.length, 2).map((i) => [ys[i] + LOWER, ys[i + 1] + LOWER, lo, hi])
        ),
      ],
      histDark: [],
      density: [...fieldBDensity, ...lowerY(fieldBDensityLower)],
      edge: [...fieldBEdge, ...lowerY(fieldBEdgeLower)],
      bounds: fieldBBounds,
      patch: [3590, 66, 3978, 240],
      credit: [3222, 3905, 184],
    };

    drawFigure(svg, figA, 0);
    drawFigure(svg, figB, 1);

    // labels on the black page
    svg.append("g").selectAll("text").data(fieldALabels).join("text")
      .attr("x", (d) => d.from)
      .attr("y", (d) => d.base)
      .attr("textLength", (d) => d.to - d.from)
      .attr("lengthAdjust", "spacingAndGlyphs")
      .attr("font-family", fontFam)
      .attr("font-weight", 700)
      .attr("font-size", 89)
      .attr("fill", "#fff")
      .text((d) => d.text);

    svg.append("text")
      .attr("transform", "translate(118,918) rotate(-90)")
      .attr("textLength", 604)
      .attr("lengthAdjust", "spacingAndGlyphs")
      .attr("font-family", fontFam)
      .attr("font-weight", 700)
      .attr("font-size", 125)
      .attr("fill", "#fff")
      .text("Brightness");
  }, []);

  return (
    <svg
      ref={ref}
      width={4041}
      height={1361}
      style={{ position: "absolute", left: 0, top: 0, background: "#000", display: "block" }}
    />
  );
}
